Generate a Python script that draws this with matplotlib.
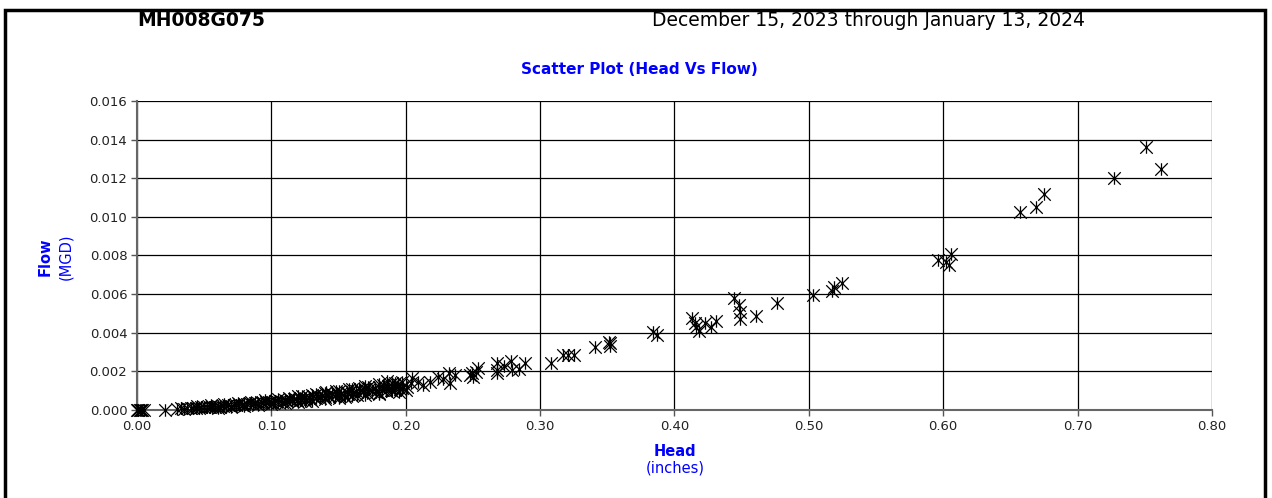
"""Head vs flow scatter for MH008G075, Excel-style layout."""
import matplotlib
matplotlib.use("Agg")
import matplotlib.pyplot as plt
from matplotlib.path import Path
from matplotlib.patches import Rectangle

plt.rcParams["font.family"] = ["DejaVu Sans"]

SITE = "MH008G075"
PERIOD = "December 15, 2023 through January 13, 2024"
TITLE = "Scatter Plot (Head Vs Flow)"

# head (inches) / flow (MGD)
head = [
    0.000, 0.001, 0.002, 0.003, 0.004, 0.005, 0.021,
    0.030, 0.033, 0.035, 0.037, 0.040, 0.042, 0.044, 0.046, 0.048, 0.050,
    0.052, 0.054, 0.056, 0.058, 0.060, 0.062, 0.064, 0.066, 0.068, 0.070,
    0.072, 0.074, 0.076, 0.078, 0.080, 0.082, 0.084, 0.086, 0.088, 0.090,
    0.092, 0.094, 0.096, 0.098, 0.100, 0.101, 0.103, 0.105, 0.107, 0.108,
    0.110, 0.112, 0.114, 0.115, 0.117, 0.119, 0.121, 0.122, 0.124, 0.126,
    0.128, 0.129, 0.131, 0.133, 0.135, 0.136, 0.138, 0.140, 0.142, 0.143,
    0.145, 0.147, 0.149, 0.150, 0.152, 0.154, 0.156, 0.157, 0.159, 0.161,
    0.163, 0.164, 0.166, 0.168, 0.170, 0.171, 0.173, 0.175, 0.177, 0.178,
    0.180, 0.182, 0.184, 0.185, 0.187, 0.189, 0.191, 0.192, 0.194, 0.196,
    0.198,
    0.120, 0.130, 0.140, 0.150, 0.160, 0.170, 0.180, 0.186, 0.192,
    0.125, 0.155, 0.180, 0.195,
    0.045, 0.055, 0.065, 0.075, 0.085, 0.095, 0.105, 0.113, 0.123, 0.133,
    0.141, 0.148, 0.158, 0.165, 0.172, 0.183, 0.190, 0.197,
    0.060, 0.070, 0.080, 0.090, 0.100, 0.110, 0.120, 0.130, 0.140, 0.150,
    0.160, 0.170, 0.180, 0.190, 0.200,
    0.197, 0.201, 0.204, 0.205, 0.209, 0.213, 0.218, 0.224, 0.228, 0.233,
    0.232, 0.237, 0.248, 0.250, 0.249, 0.252, 0.254, 0.268, 0.268, 0.268,
    0.273, 0.279, 0.278, 0.284, 0.289, 0.308, 0.317, 0.321, 0.325, 0.341,
    0.351, 0.352, 0.352, 0.384, 0.387, 0.413, 0.415, 0.416, 0.418, 0.423,
    0.427, 0.431, 0.444, 0.448, 0.449, 0.449, 0.461, 0.476, 0.503,
    0.517, 0.519, 0.525,
    0.596, 0.602, 0.604, 0.606, 0.657, 0.669, 0.675, 0.727, 0.751, 0.762,
]
flow = [
    0.00000, 0.00001, 0.00000, 0.00002, 0.00000, 0.00001, 0.00001,
    0.00005, 0.00008, 0.00006, 0.00009, 0.00010, 0.00008, 0.00012, 0.00011, 0.00014, 0.00013,
    0.00016, 0.00014, 0.00018, 0.00017, 0.00020, 0.00018, 0.00022, 0.00021, 0.00025, 0.00023,
    0.00027, 0.00025, 0.00029, 0.00028, 0.00032, 0.00030, 0.00034, 0.00031, 0.00036, 0.00035,
    0.00039, 0.00036, 0.00042, 0.00040, 0.00044, 0.00038, 0.00047, 0.00043, 0.00049, 0.00041,
    0.00052, 0.00047, 0.00055, 0.00045, 0.00058, 0.00052, 0.00061, 0.00050, 0.00064, 0.00056,
    0.00067, 0.00058, 0.00070, 0.00062, 0.00073, 0.00060, 0.00076, 0.00068, 0.00079, 0.00066,
    0.00083, 0.00072, 0.00086, 0.00074, 0.00090, 0.00078, 0.00093, 0.00081, 0.00097, 0.00084,
    0.00100, 0.00080, 0.00104, 0.00091, 0.00107, 0.00088, 0.00111, 0.00096, 0.00115, 0.00093,
    0.00118, 0.00101, 0.00122, 0.00098, 0.00126, 0.00106, 0.00129, 0.00103, 0.00133, 0.00110,
    0.00120,
    0.00070, 0.00078, 0.00090, 0.00100, 0.00110, 0.00125, 0.00135, 0.00148, 0.00140,
    0.00048, 0.00068, 0.00085, 0.00095,
    0.00020, 0.00026, 0.00032, 0.00038, 0.00044, 0.00052, 0.00058, 0.00064, 0.00072, 0.00082,
    0.00092, 0.00098, 0.00108, 0.00116, 0.00120, 0.00132, 0.00138, 0.00145,
    0.00010, 0.00015, 0.00020, 0.00026, 0.00030, 0.00036, 0.00042, 0.00048, 0.00055, 0.00062,
    0.00070, 0.00078, 0.00090, 0.00097, 0.00105,
    0.00112, 0.00121, 0.00138, 0.00164, 0.00147, 0.00130, 0.00147, 0.00169, 0.00159, 0.00141,
    0.00190, 0.00181, 0.00181, 0.00173, 0.00190, 0.00198, 0.00216, 0.00207, 0.00193, 0.00245,
    0.00228, 0.00207, 0.00255, 0.00211, 0.00245, 0.00242, 0.00285, 0.00285, 0.00285, 0.00328,
    0.00354, 0.00332, 0.00346, 0.00406, 0.00389, 0.00475, 0.00452, 0.00432, 0.00411, 0.00449,
    0.00432, 0.00463, 0.00579, 0.00544, 0.00506, 0.00470, 0.00487, 0.00556, 0.00596,
    0.00615, 0.00635, 0.00660,
    0.00777, 0.00768, 0.00751, 0.00808, 0.01027, 0.01053, 0.01119, 0.01200, 0.01361, 0.01247,
]

x_ticks = [0.0, 0.1, 0.2, 0.3, 0.4, 0.5, 0.6, 0.7, 0.8]
y_ticks = [0.000, 0.002, 0.004, 0.006, 0.008, 0.010, 0.012, 0.014, 0.016]

# Excel "star" marker: an x with a vertical bar through it
star = Path([(-1, -1), (1, 1), (-1, 1), (1, -1), (0, -1), (0, 1)],
            [Path.MOVETO, Path.LINETO, Path.MOVETO, Path.LINETO, Path.MOVETO, Path.LINETO])

fig = plt.figure(figsize=(12.72, 4.98), dpi=100)
ax = fig.add_axes([0.1077, 0.1767, 0.8451, 0.6205])

ax.plot(head, flow, linestyle="none", marker=star, markersize=9,
        markerfacecolor="none", markeredgecolor="black", markeredgewidth=0.9,
        clip_on=False, zorder=3)

ax.set_xlim(0, 0.8)
ax.set_ylim(0, 0.016)
ax.set_xticks(x_ticks)
ax.set_yticks(y_ticks)
ax.set_xticklabels([f"{v:.2f}" for v in x_ticks])
ax.set_yticklabels([f"{v:.3f}" for v in y_ticks])
ax.tick_params(direction="out", length=4, width=1, color="#555555",
               labelsize=9.5, labelcolor="#222222", pad=3)
ax.grid(True, color="black", linewidth=0.9)
ax.set_axisbelow(True)
for side in ("top", "right"):
    ax.spines[side].set_visible(False)
for side in ("left", "bottom"):
    ax.spines[side].set_color("#666666")
    ax.spines[side].set_linewidth(1.5)

fig.text(0.1077, 0.958, SITE, fontsize=13.5, fontweight="bold", ha="left", va="center")
fig.text(0.5126, 0.958, PERIOD, fontsize=13.5, ha="left", va="center")
fig.text(0.503, 0.861, TITLE, fontsize=11, fontweight="bold", color="#0000FF",
         ha="center", va="center")
fig.text(0.0354, 0.484, "Flow", fontsize=10.5, fontweight="bold", color="#0000FF",
         rotation=90, ha="center", va="center")
fig.text(0.0519, 0.484, "(MGD)", fontsize=10.5, color="#0000FF",
         rotation=90, ha="center", va="center")
fig.text(0.5307, 0.094, "Head", fontsize=10.5, fontweight="bold", color="#0000FF",
         ha="center", va="center")
fig.text(0.5307, 0.060, "(inches)", fontsize=10.5, color="#0000FF",
         ha="center", va="center")

fig.patches.append(Rectangle((5 / 1272, -0.05), 1260 / 1272, 1.05 - 10 / 498,
                             transform=fig.transFigure, fill=False,
                             edgecolor="black", linewidth=2.5))

fig.savefig("out.png", dpi=100)
